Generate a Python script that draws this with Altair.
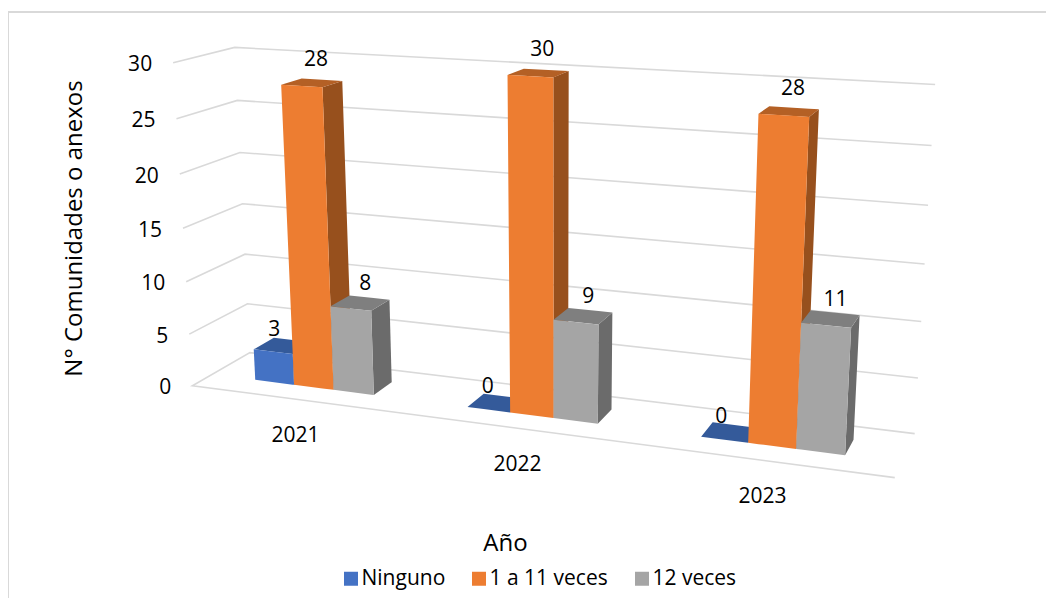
import numpy as np
import pandas as pd
import altair as alt

# ---- values ----
years = ["2021", "2022", "2023"]
series = ["Ninguno", "1 a 11 veces", "12 veces"]
ninguno = [3, 0, 0]
uno_a_once = [28, 30, 28]
doce = [8, 9, 11]
ticks = [0, 5, 10, 15, 20, 25, 30]

FONT = "Open Sans"
FS = 21
W, H = 1038, 590
front = ["#4472c4", "#ed7d31", "#a5a5a5"]
top = ["#345a9a", "#b46025", "#7f7f7f"]
side = ["#2f5597", "#97501d", "#6b6b6b"]
GRID = "#d9d9d9"
VMAX = 30.0

# ---- a camera for the 3D box: (u along years, d into depth, v value/max) -> page ----
calib = [
    (0, 0, 0, 193, 386), (1, 0, 0, 895, 477), (0, 1, 0, 250, 352), (1, 1, 0, 915, 434),
    (0, 1, 1 / 6, 247, 304), (0, 1, 2 / 6, 245, 254), (0, 1, 3 / 6, 242, 204),
    (0, 1, 4 / 6, 240, 153), (0, 1, 5 / 6, 238, 100), (0, 1, 1, 235, 47),
    (1, 1, 1 / 6, 918, 378), (1, 1, 2 / 6, 921, 322), (1, 1, 3 / 6, 924, 264),
    (1, 1, 4 / 6, 928, 205), (1, 1, 5 / 6, 932, 146), (1, 1, 1, 935, 84),
    (0, 0, 1 / 6, 189, 334), (0, 0, 2 / 6, 186, 282), (0, 0, 3 / 6, 183, 228),
    (0, 0, 4 / 6, 180, 174), (0, 0, 5 / 6, 176, 119), (0, 0, 1, 173, 63),
]
A, b = [], []
for u, d, v, px, py in calib:
    A.append([u, d, v, 1, 0, 0, 0, 0, -px * u, -px * d, -px * v])
    b.append(px)
    A.append([0, 0, 0, 0, u, d, v, 1, -py * u, -py * d, -py * v])
    b.append(py)
sol = np.linalg.lstsq(np.array(A, float), np.array(b, float), rcond=None)[0]
P = np.append(sol, 1).reshape(3, 4)


def proj(u, d, val):
    q = P @ np.array([u, d, val / VMAX, 1.0])
    return float(q[0] / q[2]) - 8, float(q[1] / q[2]) - 8


def area_rows(poly, face, color):
    xs = sorted({round(p[0], 3) for p in poly})
    rows = []
    n = len(poly)
    for x in xs:
        ys = []
        for i in range(n):
            (x0, y0), (x1, y1) = poly[i], poly[(i + 1) % n]
            lo, hi = min(x0, x1), max(x0, x1)
            if lo - 0.002 <= x <= hi + 0.002:
                if abs(x1 - x0) < 1e-6:
                    ys += [y0, y1]
                else:
                    t = min(1, max(0, (x - x0) / (x1 - x0)))
                    ys.append(y0 + t * (y1 - y0))
        rows.append(dict(x=x, y=min(ys), y2=max(ys), face=face, color=color))
    return rows


GROUP = 0.19
BAR = GROUP / 3
D0, D1 = 0.33, 0.69
values = [ninguno, uno_a_once, doce]
rows, labels = [], []
for c, year in enumerate(years):
    cu = (c + 0.5) / 3
    for s, name in enumerate(series):
        val = values[s][c]
        u0 = cu - GROUP / 2 + s * BAR
        u1 = u0 + BAR
        pid = f"{c}-{s}"
        if val > 0:
            rows += area_rows([proj(u1, D0, 0), proj(u1, D1, 0), proj(u1, D1, val), proj(u1, D0, val)], pid + "-side", side[s])
        rows += area_rows([proj(u0, D0, val), proj(u1, D0, val), proj(u1, D1, val), proj(u0, D1, val)], pid + "-top", top[s])
        if val > 0:
            rows += area_rows([proj(u0, D0, 0), proj(u1, D0, 0), proj(u1, D0, val), proj(u0, D0, val)], pid + "-front", front[s])
        cx, cy = proj((u0 + u1) / 2, (D0 + D1) / 2, val)
        labels.append(dict(x=cx + [-9, 4, 5][s], y=cy - [18, 25, 21.5][s], t=str(val)))

faces = pd.DataFrame(rows)

grid_rows = []
for t in ticks:
    path = [(0, 0), (0, 1), (1, 1)] if t else [(1, 0), (0, 0), (0, 1), (1, 1)]
    for i, (u, d) in enumerate(path):
        x, y = proj(u, d, t)
        grid_rows.append(dict(x=x, y=y, tick=t, i=i))
grid = pd.DataFrame(grid_rows)

tick_df = pd.DataFrame([dict(zip(("x", "y"), proj(0, 0, t))) | {"t": str(t)} for t in ticks])
cat_rows = []
for c, year in enumerate(years):
    x, y = proj((c + 0.5) / 3, 0, 0)
    cat_rows.append(dict(x=x, y=y, t=year))
cat_df = pd.DataFrame(cat_rows)
lab_df = pd.DataFrame(labels)

xs = alt.Scale(domain=[0, W], range=[0, W], nice=False, zero=False, padding=0)
ys = alt.Scale(domain=[0, H], range=[0, H], nice=False, zero=False, padding=0)
x_axis = alt.Axis(title="Año", labels=False, ticks=False, domain=False, grid=False,
                  titleX=497, titleY=535 - H, titleFont=FONT, titleFontSize=24,
                  titleFontWeight="normal", titleColor="#000000",
                  titleBaseline="middle", titleAlign="center")
y_axis = alt.Axis(title="N° Comunidades o anexos", labels=False, ticks=False, domain=False,
                  grid=False, titleX=66, titleY=220, titleAngle=270, titleFont=FONT,
                  titleFontSize=24, titleFontWeight="normal", titleColor="#000000",
                  titleBaseline="middle", titleAlign="center")
X = alt.X("x:Q", scale=xs, axis=x_axis)
Y = alt.Y("y:Q", scale=ys, axis=y_axis)

legend_src = (
    alt.Chart(pd.DataFrame({"s": series, "x": [0, 0, 0], "y": [0, 0, 0]}))
    .mark_square(size=0, opacity=1)
    .encode(
        x=X, y=Y,
        fill=alt.Fill("s:N", sort=None, scale=alt.Scale(domain=series, range=front),
                      legend=alt.Legend(title=None, orient="none", legendX=332.5, legendY=560, direction="horizontal",
                                        symbolType="square", symbolSize=196, symbolStrokeWidth=0, symbolOpacity=1,
                                        labelFont=FONT, labelFontSize=FS, labelColor="#000000", labelOffset=0,
                                        columnPadding=23, padding=0)),
    )
)

frame = (
    alt.Chart(pd.DataFrame({"x": [0, 0, W], "y": [H, 4, 4], "i": [0, 1, 2]}))
    .mark_line(color="#d9d9d9", strokeWidth=2)
    .encode(x=X, y=Y, order="i:Q")
)
lines = (
    alt.Chart(grid).mark_line(color=GRID, strokeWidth=1.6)
    .encode(x=X, y=Y, detail="tick:N", order="i:Q")
)
bars = (
    alt.Chart(faces).mark_area(orient="vertical", line=False, interpolate="linear")
    .encode(x=X, y=Y, y2="y2:Q", detail=alt.Detail("face:N"), fill=alt.Fill("color:N", scale=None))
)


def text(df, **kw):
    base = dict(font=FONT, fontSize=FS, color="#000000", baseline="middle")
    base.update(kw)
    return alt.Chart(df).mark_text(**base).encode(x=X, y=Y, text="t:N")


chart = (
    alt.layer(
        frame, lines, bars, legend_src,
        text(tick_df, align="right", dx=-21, dy=2.5),
        text(cat_df, align="center", dy=36.5),
        text(lab_df, align="center", dy=2.5),
    )
    .resolve_scale(fill="independent")
    .properties(width=W, height=H, padding=0, autosize=alt.AutoSizeParams(type="none"), background="white")
    .configure_view(strokeWidth=0)
)
chart.save("out.html", embed_options={"renderer": "svg", "actions": False})
